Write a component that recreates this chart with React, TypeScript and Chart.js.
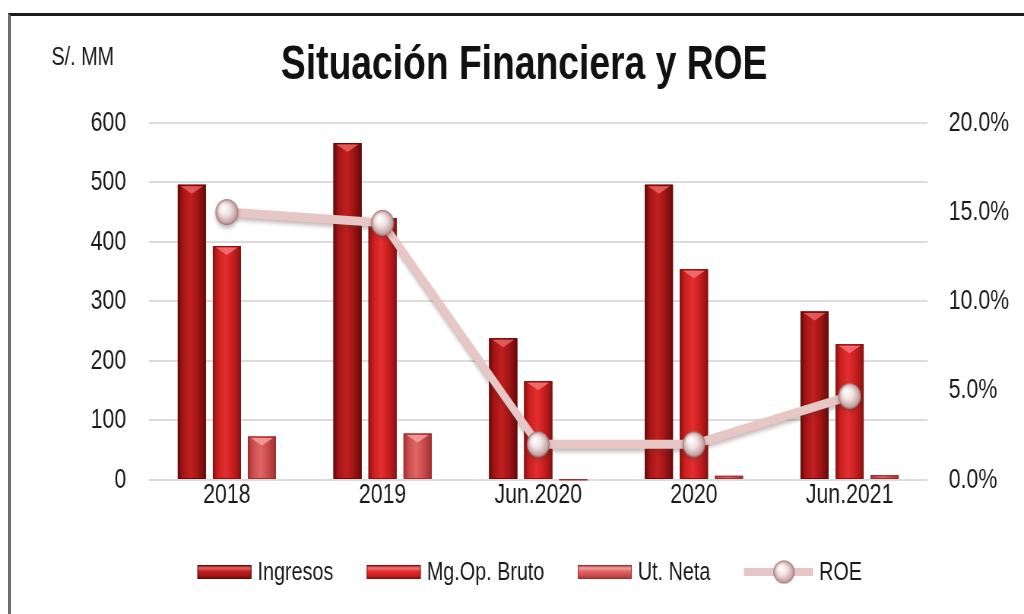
import React, { useEffect, useRef } from "react";
import { Chart, registerables } from "chart.js";

Chart.register(...registerables);

const categories = ["2018", "2019", "Jun.2020", "2020", "Jun.2021"];
const ingresos = [496, 566, 238, 496, 283];
const mgOpBruto = [393, 440, 166, 354, 228];
const utNeta = [73, 78, 1, 7, 8];
const roe = [0.15, 0.144, 0.02, 0.02, 0.047];
const leftTicks = { min: 0, max: 600, step: 100 };
const rightTicks = { min: 0, max: 0.2, step: 0.05 };

const TITLE = "Situación Financiera y ROE";
const UNIT = "S/. MM";
const FONT = '"Liberation Sans", Arial, sans-serif';

// The reference is a horizontally condensed rendering: draw on a wider canvas
// and let CSS squeeze it into 1024px.
const VIEW_W = 1024;
const VIEW_H = 614;
const SQUEEZE = 0.76;
const CANVAS_W = Math.round(VIEW_W / SQUEEZE);

const barStyles = [
  { dark: "#650a0a", base: "#a51515", light: "#c22020", bevel: "#e66464" },
  { dark: "#871111", base: "#cc1f1f", light: "#e32f2f", bevel: "#f27676" },
  { dark: "#a03030", base: "#cd4c4c", light: "#df6767", bevel: "#f4a0a0" },
];
const lineColor = "#e7c6c6";

function makeSphere(w: number, h: number) {
  const c = document.createElement("canvas");
  c.width = w + 2;
  c.height = h + 2;
  const ctx = c.getContext("2d")!;
  const cx = c.width / 2, cy = c.height / 2;
  ctx.save();
  ctx.translate(cx, cy);
  ctx.scale(w / h, 1);
  const r = h / 2;
  const g = ctx.createRadialGradient(-r * 0.3, -r * 0.35, 1, 0, 0, r);
  g.addColorStop(0, "#ffffff");
  g.addColorStop(0.45, "#efe0e0");
  g.addColorStop(0.85, "#c9a5a5");
  g.addColorStop(1, "#a77f7f");
  ctx.beginPath();
  ctx.arc(0, 0, r - 0.5, 0, Math.PI * 2);
  ctx.fillStyle = g;
  ctx.fill();
  ctx.lineWidth = 1;
  ctx.strokeStyle = "#9e7a7a";
  ctx.stroke();
  ctx.restore();
  return c;
}

const decoPlugin = {
  id: "deco",
  beforeDatasetDraw(chart: any, args: any) {
    const ds = chart.data.datasets[args.index];
    if (ds.type === "line") {
      const ctx = chart.ctx;
      ctx.save();
      ctx.shadowColor = "rgba(90,50,50,0.35)";
      ctx.shadowBlur = 4;
      ctx.shadowOffsetY = 3;
    }
  },
  afterDatasetDraw(chart: any, args: any) {
    const ds = chart.data.datasets[args.index];
    const ctx = chart.ctx;
    if (ds.type === "line") {
      ctx.restore();
      return;
    }
    const st = barStyles[ds.styleIndex];
    ctx.save();
    args.meta.data.forEach((el: any) => {
      const { x, y, base, width } = el.getProps(["x", "y", "base", "width"], true);
      const l = x - width / 2, r = x + width / 2;
      const top = Math.min(y, base), bot = Math.max(y, base);
      const h = bot - top;
      if (h <= 0) return;
      const g = ctx.createLinearGradient(l, 0, r, 0);
      g.addColorStop(0, st.dark);
      g.addColorStop(0.18, st.base);
      g.addColorStop(0.45, st.light);
      g.addColorStop(0.7, st.base);
      g.addColorStop(1, st.dark);
      ctx.fillStyle = g;
      ctx.fillRect(l, top, width, h);
      ctx.strokeStyle = st.dark;
      ctx.lineWidth = 1;
      ctx.strokeRect(l + 0.5, top + 0.5, width - 1, Math.max(h - 1, 0.5));
      if (h > 6) {
        ctx.beginPath();
        ctx.moveTo(l + 4, top + 1.5);
        ctx.lineTo(r - 4, top + 1.5);
        ctx.lineTo(x, top + Math.min(9, h / 2));
        ctx.closePath();
        ctx.fillStyle = st.bevel;
        ctx.globalAlpha = 0.85;
        ctx.fill();
        ctx.globalAlpha = 1;
      }
    });
    ctx.restore();
  },
  afterDraw(chart: any) {
    const ctx = chart.ctx;
    const area = chart.chartArea;
    ctx.save();
    // unit label above the left axis
    ctx.font = `26px ${FONT}`;
    ctx.fillStyle = "#1a1a1a";
    ctx.textAlign = "right";
    ctx.textBaseline = "middle";
    ctx.fillText(UNIT, area.left - 46, 58);
    // legend
    const sphere = chart.$legendSphere;
    ctx.font = `26px ${FONT}`;
    const items = chart.data.datasets
      .slice()
      .sort((a: any, b: any) => a.legendOrder - b.legendOrder)
      .map((d: any) => ({
        label: d.label,
        type: d.type,
        st: d.type === "bar" ? barStyles[d.styleIndex] : null,
        sw: d.type === "bar" ? 71 : 91,
        tw: ctx.measureText(d.label).width,
      }));
    const gapSym = 8, gapItem = 44;
    let total = 0;
    items.forEach((it: any, i: number) => {
      total += it.sw + gapSym + it.tw + (i < items.length - 1 ? gapItem : 0);
    });
    const cxL = area.left + area.width * 0.489;
    let x = cxL - total / 2;
    const yc = 572;
    items.forEach((it: any) => {
      if (it.type === "bar") {
        const st = it.st;
        const g = ctx.createLinearGradient(0, yc - 7, 0, yc + 7);
        g.addColorStop(0, st.dark);
        g.addColorStop(0.22, st.bevel);
        g.addColorStop(0.45, st.light);
        g.addColorStop(0.75, st.base);
        g.addColorStop(1, st.dark);
        ctx.fillStyle = g;
        ctx.fillRect(x, yc - 7, it.sw, 14);
        ctx.strokeStyle = st.dark;
        ctx.lineWidth = 1;
        ctx.strokeRect(x + 0.5, yc - 6.5, it.sw - 1, 13);
      } else {
        ctx.fillStyle = lineColor;
        ctx.fillRect(x, yc - 4, it.sw, 8);
        if (sphere) ctx.drawImage(sphere, x + it.sw * 0.58 - sphere.width / 2, yc - sphere.height / 2);
      }
      x += it.sw + gapSym;
      ctx.fillStyle = "#1a1a1a";
      ctx.textAlign = "left";
      ctx.fillText(it.label, x, yc + 1);
      x += it.tw + gapItem;
    });
    ctx.restore();
  },
};

export default function App() {
  const ref = useRef<HTMLCanvasElement>(null);
  useEffect(() => {
    if (!ref.current) return;
    const sphere = makeSphere(30, 26);
    const legendSphere = makeSphere(28, 23);
    const tickFont = { family: FONT, size: 28 };
    const chart: any = new Chart(ref.current, {
      type: "bar",
      data: {
        labels: categories,
        datasets: [
          {
            type: "line",
            label: "ROE",
            data: roe,
            yAxisID: "y1",
            borderColor: lineColor,
            borderWidth: 9,
            pointStyle: sphere as any,
            pointRadius: 13,
            tension: 0,
            order: 0,
            legendOrder: 3,
          } as any,
          {
            type: "bar",
            label: "Ingresos",
            data: ingresos,
            yAxisID: "y",
            backgroundColor: barStyles[0].base,
            order: 1,
            styleIndex: 0,
            legendOrder: 0,
          },
          {
            type: "bar",
            label: "Mg.Op. Bruto",
            data: mgOpBruto,
            yAxisID: "y",
            backgroundColor: barStyles[1].base,
            order: 1,
            styleIndex: 1,
            legendOrder: 1,
          },
          {
            type: "bar",
            label: "Ut. Neta",
            data: utNeta,
            yAxisID: "y",
            backgroundColor: barStyles[2].base,
            order: 1,
            styleIndex: 2,
            legendOrder: 2,
          },
        ],
      },
      options: {
        responsive: false,
        animation: false,
        devicePixelRatio: 1,
        datasets: { bar: { categoryPercentage: 0.675, barPercentage: 0.8 } },
        layout: { padding: { left: 32, right: 0, top: 36, bottom: 94 } },
        plugins: {
          legend: { display: false },
          tooltip: { enabled: false },
          title: {
            display: true,
            text: TITLE,
            color: "#111",
            font: { family: FONT, size: 49, weight: "bold" },
            padding: { top: 0, bottom: 28 },
          },
        },
        scales: {
          x: {
            grid: { display: false },
            border: { display: false },
            ticks: { font: tickFont, color: "#1a1a1a", padding: -10, maxRotation: 0 },
            afterFit: (s: any) => { s.height = 40; },
          },
          y: {
            position: "left",
            min: leftTicks.min,
            max: leftTicks.max,
            ticks: { stepSize: leftTicks.step, font: tickFont, color: "#1a1a1a", padding: 30 },
            grid: { color: "#dcdcdc", lineWidth: 2, drawTicks: false },
            border: { display: false },
            afterFit: (s: any) => { s.width = 164; },
          },
          y1: {
            position: "right",
            min: rightTicks.min,
            max: rightTicks.max,
            ticks: {
              stepSize: rightTicks.step,
              font: tickFont,
              color: "#1a1a1a",
              padding: 28,
              callback: (v: any) => (Number(v) * 100).toFixed(1) + "%",
            },
            grid: { display: false, drawTicks: false },
            border: { display: false },
            afterFit: (s: any) => { s.width = 127; },
          },
        },
      } as any,
      plugins: [decoPlugin],
    });
    chart.$legendSphere = legendSphere;
    chart.draw();
    return () => chart.destroy();
  }, []);

  return (
    <div style={{ position: "fixed", left: 0, top: 0, width: VIEW_W, height: VIEW_H, background: "#fff", overflow: "hidden" }}>
      <div
        style={{
          position: "absolute",
          left: 8,
          top: 13,
          width: 1100,
          height: 700,
          borderTop: "3px solid #1c1c1c",
          borderLeft: "3px solid #6e6e6e",
          boxSizing: "border-box",
        }}
      />
      <canvas
        ref={ref}
        width={CANVAS_W}
        height={VIEW_H}
        style={{ position: "absolute", left: 0, top: 0, width: VIEW_W, height: VIEW_H }}
      />
    </div>
  );
}
